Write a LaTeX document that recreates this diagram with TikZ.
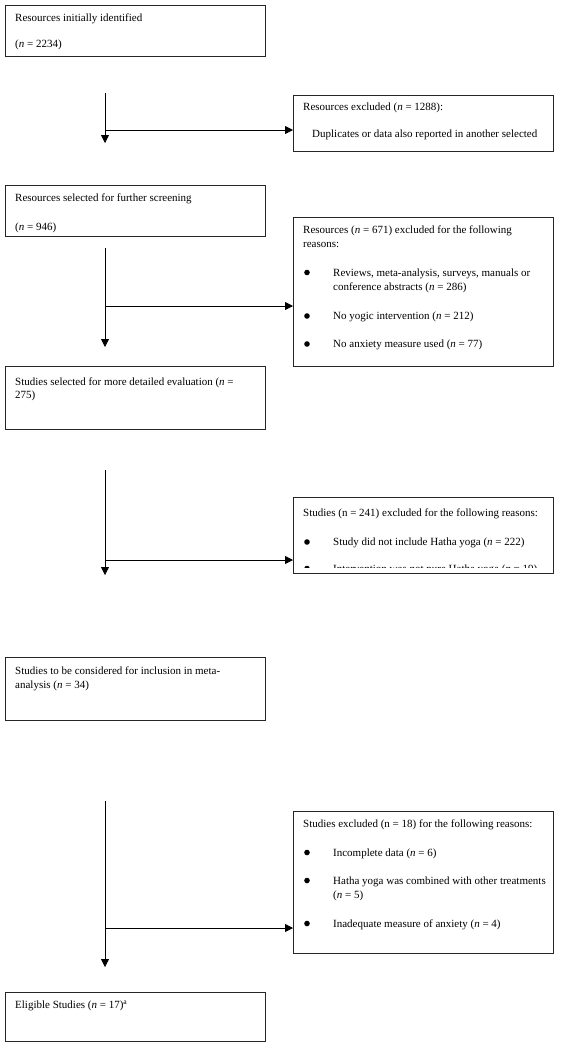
\documentclass[tikz,border=0pt]{standalone}
\usepackage{fontspec}
\setmainfont{Liberation Serif}
\usetikzlibrary{positioning}
\usetikzlibrary{arrows.meta}

\tikzset{
  box/.style={draw=black!85, line width=0.9pt, anchor=north west, inner sep=0pt, minimum width=260pt},
  txt/.style={anchor=base west, inner sep=0pt, font=\fontsize{11}{14}\selectfont},
  flow/.style={line width=0.8pt, -{Triangle[length=8pt,width=8pt]}},
}

\begin{document}
\begin{tikzpicture}[x=1pt,y=-1pt]
\useasboundingbox (0,0) rectangle (570,1045);

% main column
\node[box, minimum height=51pt] (init) at (5,5) {};
\node[box, minimum height=51pt] (screen) at (5,185) {};
\node[box, minimum height=63pt] (detail) at (5,366) {};
\node[box, minimum height=63pt] (consid) at (5,657) {};
\node[box, minimum height=49pt] (elig) at (5,992) {};

% exclusion boxes
\node[box, minimum height=56pt] (excl1) at (293,95) {};
\node[box, minimum height=149pt] (excl2) at (293,217) {};
\node[box, minimum height=76pt] (excl3) at (293,497) {};
\node[box, minimum height=142pt] (excl4) at (293,811) {};

% texts, left
\node[txt] (initA) at (15,21.5) {Resources initially identified};
\node[txt] (initB) at (15,47.5) {(\textit{n} = 2234)};

\node[txt] (screenA) at (15,201.5) {Resources selected for further screening};
\node[txt] (screenB) at (15,230.5) {(\textit{n} = 946)};

\node[txt] (detailA) at (15,385.5) {Studies selected for more detailed evaluation (\textit{n} =};
\node[txt] (detailB) at (15,398.5) {275)};

\node[txt] (considA) at (15,674.5) {Studies to be considered for inclusion in meta-};
\node[txt] (considB) at (15,688.5) {analysis (\textit{n} = 34)};

\node[txt] (eligA) at (15,1008.5) {Eligible Studies (\textit{n} = 17)\textsuperscript{a}};

% texts, right
\node[txt] (excl1A) at (303,110.5) {Resources excluded (\textit{n} = 1288):};
\begin{scope}
\clip (excl1.north west) rectangle ([yshift=3pt]excl1.south east);
\node[txt] (excl1B) at (312,137) {Duplicates or data also reported in another selected};
\end{scope}

\node[txt] (excl2A) at (303,233) {Resources (\textit{n} = 671) excluded for the following};
\node[txt] (excl2B) at (303,247) {reasons:};
\fill (307,272.5) circle (2.8);
\node[txt] (excl2C) at (333,276) {Reviews, meta-analysis, surveys, manuals or};
\node[txt] (excl2D) at (333,290.5) {conference abstracts (\textit{n} = 286)};
\fill (307,316) circle (2.8);
\node[txt] (excl2E) at (333,319.5) {No yogic intervention (\textit{n} = 212)};
\fill (307,344) circle (2.8);
\node[txt] (excl2F) at (333,347.5) {No anxiety measure used (\textit{n} = 77)};

\node[txt] (excl3A) at (303,516.5) {Studies (n = 241) excluded for the following reasons:};
\fill (307,542) circle (2.8);
\node[txt] (excl3B) at (333,545.5) {Study did not include Hatha yoga (\textit{n} = 222)};
\begin{scope}
\clip (excl3.north west) rectangle ([yshift=6pt]excl3.south east);
\fill (307,568.5) circle (2.8);
\node[txt] (excl3C) at (333,572) {Intervention was not pure Hatha yoga (\textit{n} = 19)};
\end{scope}

\node[txt] (excl4A) at (303,827) {Studies excluded (n = 18) for the following reasons:};
\fill (307,852.5) circle (2.8);
\node[txt] (excl4B) at (333,856) {Incomplete data (\textit{n} = 6)};
\fill (307,880.5) circle (2.8);
\node[txt] (excl4C) at (333,884) {Hatha yoga was combined with other treatments};
\node[txt] (excl4D) at (333,898.5) {(\textit{n} = 5)};
\fill (307,923.5) circle (2.8);
\node[txt] (excl4E) at (333,927) {Inadequate measure of anxiety (\textit{n} = 4)};

% arrows
\coordinate (top1) at (105,93);
\coordinate (end1) at (105,143);
\coordinate (turn1) at (105,130);
\draw[flow] (top1) -- (end1);
\draw[flow] (turn1) -- (turn1 -| excl1.west);

\coordinate (top2) at (105,248);
\coordinate (end2) at (105,347);
\coordinate (turn2) at (105,306);
\draw[flow] (top2) -- (end2);
\draw[flow] (turn2) -- (turn2 -| excl2.west);

\coordinate (top3) at (105,470);
\coordinate (end3) at (105,575);
\coordinate (turn3) at (105,560);
\draw[flow] (top3) -- (end3);
\draw[flow] (turn3) -- (turn3 -| excl3.west);

\coordinate (top4) at (105,801);
\coordinate (end4) at (105,967);
\coordinate (turn4) at (105,928);
\draw[flow] (top4) -- (end4);
\draw[flow] (turn4) -- (turn4 -| excl4.west);

\end{tikzpicture}
\end{document}
